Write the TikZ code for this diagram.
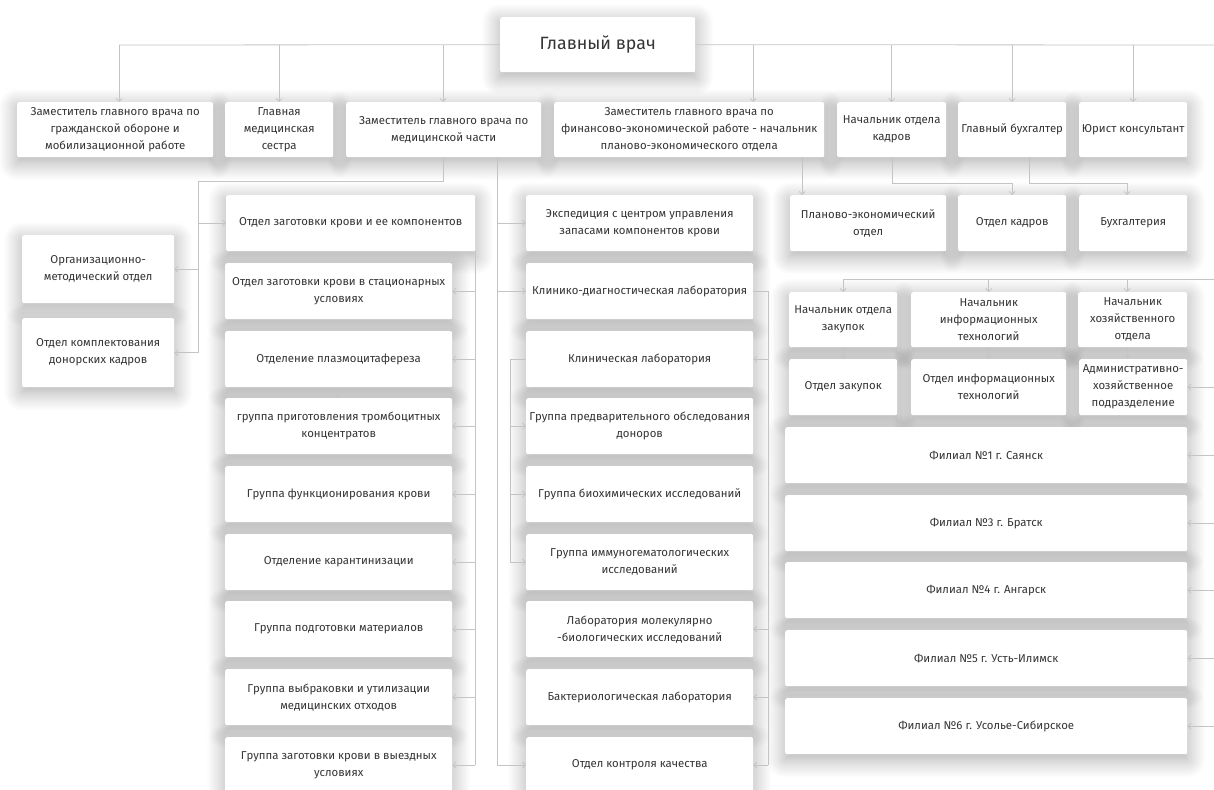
\documentclass[tikz,border=0pt]{standalone}
\usepackage{fontspec}
\setmainfont{Fira Sans}
\usetikzlibrary{arrows.meta,shadows.blur,calc}
\definecolor{txt}{HTML}{353535}
\definecolor{ln}{HTML}{C4C4C4}
\pgfdeclarelayer{bg}
\pgfdeclarelayer{shad}
\pgfsetlayers{bg,shad,main}
\tikzset{
  orgbox/.style={fill=white, rounded corners=2pt, anchor=north west, align=center,
    text=txt, font=\fontsize{11.4}{17}\selectfont, inner sep=0pt},
  conn/.style={draw=ln, line width=0.8pt},
  arr/.style={conn, -{Straight Barb[length=3pt,width=6pt]}},
  shd/.style={blur shadow={shadow xshift=0pt, shadow yshift=-5pt, shadow blur radius=18pt, shadow blur steps=14, shadow opacity=34}},
}
\newcommand\obx[6]{\node[orgbox, minimum width=#4pt, minimum height=#5pt] (#1) at (#2,#3) {#6};}
\begin{document}
\begin{tikzpicture}[x=1pt,y=-1pt]
\useasboundingbox (0,0) rectangle (1214,789);
\begin{pgfonlayer}{bg}
\fill[white] (0,0) rectangle (1214,789);
\end{pgfonlayer}

% chief
\node[orgbox, minimum width=195pt, minimum height=55pt, font=\fontsize{17.8}{20}\selectfont] (chief) at (500,17) {Главный врач};

% row 1
\obx{b1}{17}{102}{196}{55}{Заместитель главного врача по\\гражданской обороне и\\мобилизационной работе}
\obx{b2}{225}{102}{108}{55}{Главная\\медицинская\\сестра}
\obx{b3}{346}{102}{195}{55}{Заместитель главного врача по\\медицинской части}
\obx{b4}{554}{102}{270}{55}{Заместитель главного врача по\\финансово-экономической работе - начальник\\планово-экономического отдела}
\obx{b5}{837}{102}{109}{55}{Начальник отдела\\кадров}
\obx{b6}{958}{102}{108}{55}{Главный бухгалтер}
\obx{b7}{1079}{102}{108}{55}{Юрист консультант}

% row 2
\obx{zag}{226}{195}{249}{56}{Отдел заготовки крови и ее компонентов}
\obx{exp}{526}{195}{227}{56}{Экспедиция с центром управления\\запасами компонентов крови}
\obx{plan}{790}{195}{156}{56}{Планово-экономический\\отдел}
\obx{kadr}{958}{195}{108}{56}{Отдел кадров}
\obx{buh}{1079}{195}{108}{56}{Бухгалтерия}

% left
\obx{org}{22}{235}{152}{68}{Организационно-\\методический отдел}
\obx{kompl}{22}{318}{152}{69}{Отдел комплектования\\донорских кадров}

% column L2
\obx{l1}{225}{263}{227}{56}{Отдел заготовки крови в стационарных\\условиях}
\obx{l2}{225}{331}{227}{56}{Отделение плазмоцитафереза}
\obx{l3}{225}{398}{227}{56}{группа приготовления тромбоцитных\\концентратов}
\obx{l4}{225}{466}{227}{56}{Группа функционирования крови}
\obx{l5}{225}{534}{227}{56}{Отделение карантинизации}
\obx{l6}{225}{601}{227}{56}{Группа подготовки материалов}
\obx{l7}{225}{669}{227}{56}{Группа выбраковки и утилизации\\медицинских отходов}
\obx{l8}{225}{737}{227}{56}{Группа заготовки крови в выездных\\условиях}

% column M
\obx{m1}{526}{263}{227}{56}{Клинико-диагностическая лаборатория}
\obx{m2}{526}{331}{227}{56}{Клиническая лаборатория}
\obx{m3}{526}{398}{227}{56}{Группа предварительного обследования\\доноров}
\obx{m4}{526}{466}{227}{56}{Группа биохимических исследований}
\obx{m5}{526}{534}{227}{56}{Группа иммуногематологических\\исследований}
\obx{m6}{526}{601}{227}{56}{Лаборатория молекулярно\\-биологических исследований}
\obx{m7}{526}{669}{227}{56}{Бактериологическая лаборатория}
\obx{m8}{526}{737}{227}{56}{Отдел контроля качества}

% right block
\obx{r1a}{789}{292}{108}{55}{Начальник отдела\\закупок}
\obx{r1b}{911}{292}{155}{55}{Начальник\\информационных\\технологий}
\obx{r1c}{1078}{292}{109}{55}{Начальник\\хозяйственного\\отдела}
\obx{r2a}{789}{359}{108}{56}{Отдел закупок}
\obx{r2b}{911}{359}{155}{56}{Отдел информационных\\технологий}
\obx{r2c}{1079}{359}{108}{56}{Административно-\\хозяйственное\\подразделение}
\obx{f1}{785}{427}{402}{56}{Филиал №1 г. Саянск}
\obx{f2}{785}{495}{402}{56}{Филиал №3 г. Братск}
\obx{f3}{785}{562}{402}{56}{Филиал №4 г. Ангарск}
\obx{f4}{785}{630}{402}{56}{Филиал №5 г. Усть-Илимск}
\obx{f5}{785}{698}{402}{56}{Филиал №6 г. Усолье-Сибирское}

% shadows
\begin{pgfonlayer}{shad}
\path[shd] (2000,2000) rectangle (2010,2010);
\foreach \n in {b1,b2,b3,b4,b5,b6,b7,zag,exp,plan,kadr,buh,org,kompl,
  l1,l2,l3,l4,l5,l6,l7,l8,m1,m2,m3,m4,m5,m6,m7,m8,r1a,r1b,r1c,r2a,r2b,r2c,f1,f2,f3,f4,f5,chief}
  \path[shd] (\n.north west) rectangle (\n.south east);
\end{pgfonlayer}

% top bus
\coordinate (busL) at (119,45);
\coordinate (busR) at (1214,45);
\coordinate (d3) at (443,45);
\coordinate (d4) at (753,45);
\draw[conn] (chief.west) -- (busL);
\draw[conn] (chief.east) -- (busR);
\draw[arr] (busL) -- (busL |- b1.north);
\draw[arr] (b2.north |- busL) -- (b2.north);
\draw[arr] (d3) -- (d3 |- b3.north);
\draw[arr] (d4) -- (d4 |- b4.north);
\draw[arr] (b5.north |- busL) -- (b5.north);
\draw[arr] (b6.north |- busL) -- (b6.north);
\draw[arr] (b7.north |- busL) -- (b7.north);

% second level right
\coordinate (p4) at (802,157);
\draw[arr] (p4) -- (p4 |- plan.north);
\coordinate (k5) at (892,157);
\coordinate (k5e) at (1012,183);
\draw[arr] (k5) |- (k5e) -- (k5e |- kadr.north);
\coordinate (p6) at (1029,157);
\coordinate (p6e) at (1127,183);
\draw[arr] (p6) |- (p6e) -- (p6e |- buh.north);

% b3 to left
\coordinate (s3) at (443,157);
\coordinate (lv) at (198,181);
\draw[conn] (s3) |- (lv) -- (lv |- kompl.east);
\draw[arr] (lv |- zag.west) -- (zag.west);
\draw[arr] (lv |- org.east) -- (org.east);
\draw[arr] (lv |- kompl.east) -- (kompl.east);

% b3 long line
\coordinate (mv) at (497,157);
\draw[arr] (mv) |- (m8.west);
\draw[arr] (mv |- exp.west) -- (exp.west);
\draw[arr] (mv |- m1.west) -- (m1.west);

% L2 column
\draw[conn] (zag.south east) -- (zag.south east |- l8.east);
\foreach \n in {l1,l2,l3,l4,l5,l6,l7,l8}
  \draw[arr] (zag.south east |- \n.east) -- (\n.east);
\draw[arr] (l2.south) -- (l3.north);

% M column right
\coordinate (rv) at ($(m1.east)+(15,0)$);
\draw[conn] (m1.east) -- (rv) -- (rv |- m8.east);
\foreach \n in {m2,m6,m7,m8}
  \draw[arr] (rv |- \n.east) -- (\n.east);

% M column inner
\coordinate (iv) at ($(m2.west)+(-16,0)$);
\draw[conn] (m2.west) -- (iv) -- (iv |- m5.west);
\foreach \n in {m3,m4,m5}
  \draw[arr] (iv |- \n.west) -- (\n.west);

% right bus
\coordinate (rbL) at (843,279);
\coordinate (rbR) at (1214,279);
\coordinate (rbc) at (1127,279);
\coordinate (hz) at (1127,347);
\draw[conn] (rbL) -- (rbR);
\draw[arr] (rbL) -- (rbL |- r1a.north);
\draw[arr] (r1b.north |- rbL) -- (r1b.north);
\draw[arr] (rbc) -- (rbc |- r1c.north);
\draw[arr] (r1a.south) -- (r2a.north);
\draw[arr] (r1b.south) -- (r2b.north);
\draw[arr] (hz) -- (hz |- r2c.north);

% right stubs
\coordinate (ex) at (1214,0);
\foreach \n in {r2c,f1,f2,f3,f4,f5}
  \draw[arr] (ex |- \n.east) -- (\n.east);
\end{tikzpicture}
\end{document}
